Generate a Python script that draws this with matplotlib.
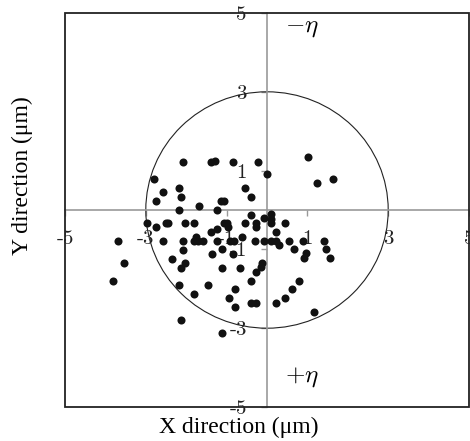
import matplotlib
matplotlib.use("Agg")
import matplotlib.pyplot as plt
from matplotlib.patches import Circle, Rectangle

plt.rcParams["font.family"] = ["Liberation Serif", "DejaVu Serif"]
plt.rcParams["mathtext.fontset"] = "cm"
plt.rcParams["axes.unicode_minus"] = False

# measured positions (um)
x_pos = [-2.07, -1.38, -1.28, -0.85, -0.22, 0.00, -2.80, -2.58, -2.19, -0.55,
         -2.75, -2.13, -1.13, -1.06, -0.40, -1.68, 1.01, 1.24, 1.63, -2.19,
         -1.23, -0.40, -0.07, 0.11, 0.11, 0.11, -2.96, -2.75, -2.50, -2.46,
         -2.02, -1.80, -1.39, -1.24, -1.06, -0.98, -0.96, -0.55, -0.27, -0.27,
         0.45, 0.22, -3.70, -2.58, -2.07, -1.80, -1.76, -1.72, -1.58, -1.23,
         -0.91, -0.82, -0.62, -0.29, -0.07, 0.11, 0.22, 0.30, 0.55, 0.66,
         0.88, 0.97, 0.91, 1.40, 1.46, 1.57, -2.07, -1.35, -1.12, -0.85,
         -2.35, -2.02, -2.13, -3.53, -1.12, -0.67, -0.12, -0.14, -0.27, -3.80,
         -2.19, -1.80, -1.45, -0.40, -0.78, -0.95, -0.40, -0.27, -0.78, -2.13,
         -1.12, 0.78, 0.61, 0.45, 0.22, 1.17]
y_pos = [1.21, 1.22, 1.24, 1.21, 1.23, 0.91, 0.79, 0.46, 0.56, 0.56,
         0.23, 0.34, 0.22, 0.23, 0.33, 0.11, 1.35, 0.68, 0.79, 0.00,
         0.00, -0.13, -0.21, -0.10, -0.22, -0.34, -0.34, -0.43, -0.34, -0.34,
         -0.34, -0.34, -0.56, -0.47, -0.34, -0.34, -0.43, -0.34, -0.34, -0.43,
         -0.34, -0.56, -0.79, -0.79, -0.79, -0.79, -0.68, -0.79, -0.79, -0.79,
         -0.79, -0.79, -0.68, -0.79, -0.79, -0.79, -0.79, -0.89, -0.79, -1.00,
         -0.79, -1.10, -1.23, -0.79, -1.00, -1.23, -1.02, -1.12, -1.00, -1.12,
         -1.24, -1.35, -1.46, -1.35, -1.46, -1.46, -1.35, -1.45, -1.57, -1.79,
         -1.90, -2.13, -1.90, -1.79, -2.01, -2.24, -2.35, -2.35, -2.47, -2.79,
         -3.13, -1.79, -2.01, -2.24, -2.35, -2.58]

circle_radius = 3
ticks = [-5, -3, -1, 1, 3, 5]
tick_labels = ["-5", "-3", "-1", "1", "3", "5"]

fig = plt.figure(figsize=(4.7, 4.41), dpi=100)
ax = fig.add_axes([65 / 470, 34 / 441, 404 / 470, 394 / 441])

ax.plot(x_pos, y_pos, "o", color="#111111", ms=5.8, mec="none", zorder=3)
ax.add_patch(Circle((0, 0), circle_radius, fill=False, lw=0.8, color="#222222", zorder=2))

ax.set_xlim(-5, 5)
ax.set_ylim(-5, 5)

for side in ["top", "right"]:
    ax.spines[side].set_visible(False)
for side in ["left", "bottom"]:
    ax.spines[side].set_position(("data", 0))
    ax.spines[side].set_color("#999999")
    ax.spines[side].set_linewidth(1.2)
ax.add_patch(Rectangle((0, 0), 1, 1, transform=ax.transAxes, fill=False,
                       lw=1.3, color="#222222", clip_on=False, zorder=4))

ax.set_xticks(ticks, labels=tick_labels)
ax.set_yticks(ticks, labels=tick_labels)
ax.tick_params(direction="out", length=4.5, width=1, color="#999999", pad=10,
               labelsize=15, labelcolor="#222222")
for lab in ax.get_xticklabels() + ax.get_yticklabels():
    lab.set_fontfamily("cmr10")

ax.text(0.87, 4.62, r"$-\eta$", fontsize=18, ha="center", va="center")
ax.text(0.87, -4.24, r"$+\eta$", fontsize=18, ha="center", va="center")

ax.text(0.431, -0.053, "X direction (μm)", transform=ax.transAxes,
        ha="center", va="center", fontsize=17)
ax.text(-0.106, 0.586, "Y direction (μm)", transform=ax.transAxes,
        ha="center", va="center", fontsize=17, rotation=90)

fig.savefig("out.png", dpi=100)
